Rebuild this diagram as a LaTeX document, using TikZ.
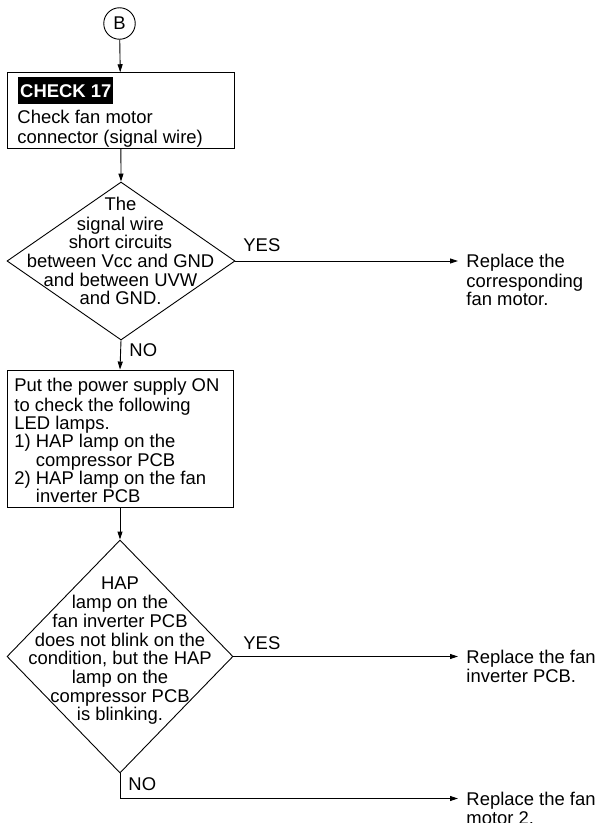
\documentclass[tikz,border=0pt]{standalone}
\usepackage{fontspec}
\setmainfont{Liberation Sans}
\usetikzlibrary{shapes.geometric,arrows.meta}
\begin{document}
\begin{tikzpicture}[x=1bp,y=-1bp,
  line width=0.9bp,
  arr/.style={-{Triangle[length=8bp,width=5bp]}},
  txt/.style={font=\fontsize{18.5}{18.7}\selectfont, inner sep=0pt},
  boxshape/.style={draw, rectangle, inner sep=0pt},
  dia/.style={draw, diamond, inner sep=0pt},
  lbl/.style={txt, anchor=north west},
  rtxt/.style={font=\fontsize{18.5}{17.5}\selectfont, align=left, anchor=north west, inner xsep=8bp, inner ysep=0pt}]
\useasboundingbox (0,0) rectangle (599,823);

% start connector
\node[draw, circle, minimum size=31.5bp, inner sep=0pt, font=\fontsize{18.5}{19}\selectfont] (B) at (119.5,23.5) {B};

% box 1
\node[boxshape, minimum width=227bp, minimum height=75.6bp] (box1) at (120.8,110.5) {};
\node[fill=black, text=white, font=\bfseries\fontsize{18.5}{18.7}\selectfont, inner xsep=1.75bp, inner ysep=0pt, minimum height=27bp, anchor=north west] (chk) at (18,77) {CHECK 17};
\node[txt, align=left, anchor=north west, font=\fontsize{18.5}{20}\selectfont] (t1) at (17,109.6) {\strut Check fan motor\\connector (signal wire)};

% diamond 1
\node[dia, minimum width=228bp, minimum height=158bp] (d1) at (121,261) {};
\node[txt, align=center, anchor=north] (d1t) at (120.5,196.5) {\strut The\\signal wire\\short circuits\\between Vcc and GND\\and between UVW\\and GND.};
\node[lbl] (yes1) at (243,238.5) {\strut YES};
\node[lbl] (no1) at (129,343.5) {\strut NO};
\node[rtxt, font=\fontsize{18.5}{18.5}\selectfont] (r1) at (458,253.5) {\strut Replace the\\corresponding\\fan motor.};

% box 2
\node[boxshape, minimum width=226bp, minimum height=137bp] (box2) at (120,438.5) {};
\node[txt, align=left, anchor=north west, font=\fontsize{18.5}{18.4}\selectfont] (b2t) at (14,377.5) {\strut Put the power supply ON\\to check the following\\LED lamps.\\1) HAP lamp on the\\\phantom{1) }compressor PCB\\2) HAP lamp on the fan\\\phantom{2) }inverter PCB};

% diamond 2
\node[dia, minimum width=226bp, minimum height=233bp] (d2) at (120,656.5) {};
\node[txt, align=center, anchor=north] (d2t) at (120,575.5) {\strut HAP\\lamp on the\\fan inverter PCB\\does not blink on the\\condition, but the HAP\\lamp on the\\compressor PCB\\is blinking.};
\node[lbl] (yes2) at (243,636.5) {\strut YES};
\node[lbl] (no2) at (128,776.5) {\strut NO};
\node[rtxt] (r2) at (458,649.5) {\strut Replace the fan\\inverter PCB.};
\coordinate (c3) at (458,798.5);
\node[rtxt, anchor=north west] (r3) at ([yshift=6.5bp]c3) {\strut Replace the fan\\motor 2.};

% connectors
\draw[arr] (B) -- (box1);
\draw[arr] (box1) -- (d1.north);
\draw[arr] (d1.east) -- (d1.east -| r1.west);
\draw[arr] (d1.south) -- (box2.north);
\draw[arr] (box2) -- (d2.north);
\draw[arr] (d2.east) -- (d2.east -| r2.west);
\draw[arr] (d2.south) |- (c3);
\end{tikzpicture}
\end{document}
